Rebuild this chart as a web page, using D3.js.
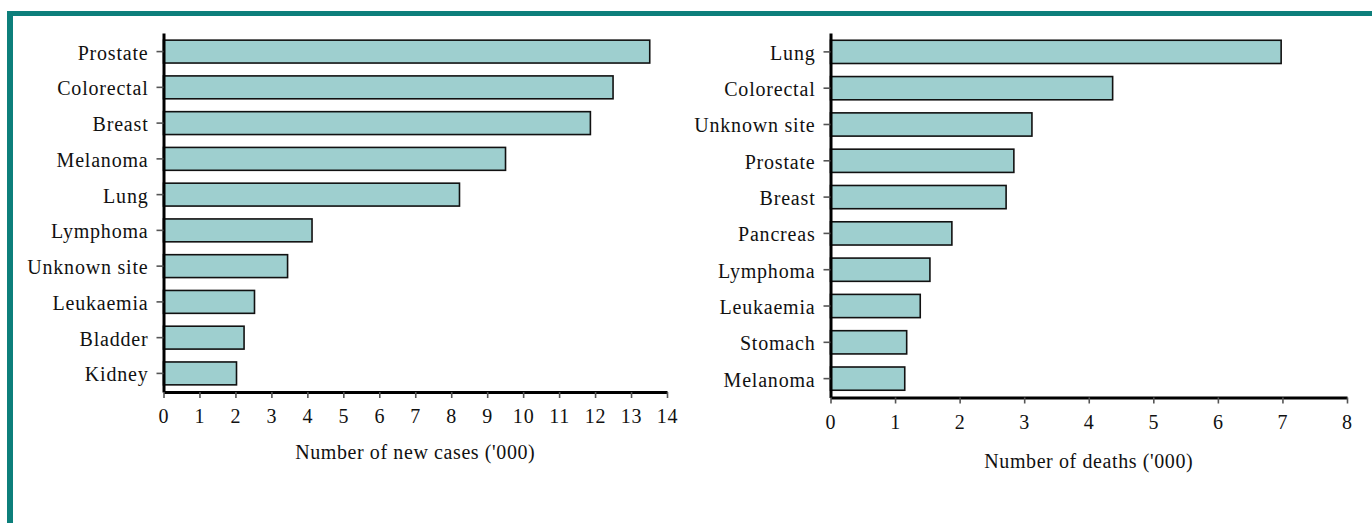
<!DOCTYPE html>
<html>
<head>
<meta charset="utf-8">
<script src="https://cdn.jsdelivr.net/npm/d3@7"></script>
<style>
  body { margin: 0; background: #fff; }
  svg text { font-family: "Liberation Serif", "Times New Roman", serif; fill: #111; }
</style>
</head>
<body>
<div id="chart"></div>
<script>
// new cases ('000)
const casesSites = ["Prostate", "Colorectal", "Breast", "Melanoma", "Lung", "Lymphoma", "Unknown site", "Leukaemia", "Bladder", "Kidney"];
const casesValues = [13.52, 12.5, 11.87, 9.51, 8.23, 4.13, 3.45, 2.53, 2.24, 2.03];
const casesTicks = d3.range(0, 15);

// deaths ('000)
const deathSites = ["Lung", "Colorectal", "Unknown site", "Prostate", "Breast", "Pancreas", "Lymphoma", "Leukaemia", "Stomach", "Melanoma"];
const deathValues = [6.98, 4.37, 3.12, 2.84, 2.72, 1.88, 1.54, 1.39, 1.18, 1.15];
const deathTicks = d3.range(0, 9);

const W = 1372, H = 523;
const teal = "#0d7f7b", barFill = "#9ecfcf";

const svg = d3.select("#chart").append("svg")
    .attr("width", W)
    .attr("height", H);

svg.append("rect").attr("width", W).attr("height", H).attr("fill", "#fff");

// frame: top and left teal rules
svg.append("rect").attr("x", 7).attr("y", 11).attr("width", W - 7).attr("height", 5).attr("fill", teal);
svg.append("rect").attr("x", 7).attr("y", 11).attr("width", 6).attr("height", H - 11).attr("fill", teal);

function panel(sites, values, ticks, xr, yr, title, titleY) {
    const x = d3.scaleLinear()
        .domain([ticks[0], ticks[ticks.length - 1]])
        .range(xr);

    const y = d3.scaleBand()
        .domain(sites)
        .range(yr)
        .paddingInner(0.36)
        .paddingOuter(0.2);

    const g = svg.append("g");

    g.selectAll("rect.bar")
        .data(values)
        .join("rect")
        .attr("class", "bar")
        .attr("x", x(0))
        .attr("y", (d, i) => y(sites[i]))
        .attr("width", d => x(d) - x(0))
        .attr("height", y.bandwidth())
        .attr("fill", barFill)
        .attr("stroke", "#111")
        .attr("stroke-width", 1.6);

    const yAxis = g.append("g")
        .attr("transform", "translate(" + xr[0] + ",0)")
        .call(d3.axisLeft(y).tickSize(7).tickSizeOuter(0).tickPadding(8));
    yAxis.selectAll(".tick text").attr("dy", "0.4em");

    const xAxis = g.append("g")
        .attr("transform", "translate(0," + yr[1] + ")")
        .call(d3.axisBottom(x).tickValues(ticks).tickFormat(d3.format("d"))
            .tickSize(6).tickSizeOuter(0).tickPadding(11));

    [yAxis, xAxis].forEach(function (a) {
        a.select(".domain").attr("stroke", "#000").attr("stroke-width", 3);
        a.selectAll(".tick line").attr("stroke", "#555").attr("stroke-width", 1.6);
        a.selectAll(".tick text")
            .style("font-size", "20px")
            .style("letter-spacing", "0.8px")
            .attr("fill", "#111");
    });

    g.append("text")
        .attr("x", (xr[0] + xr[1]) / 2)
        .attr("y", titleY)
        .attr("dy", "0.35em")
        .attr("text-anchor", "middle")
        .style("font-size", "20px")
        .style("letter-spacing", "0.6px")
        .text(title);
}

panel(casesSites, casesValues, casesTicks, [163.5, 667], [33, 392], "Number of new cases ('000)", 452);
panel(deathSites, deathValues, deathTicks, [830.5, 1347], [33, 397.5], "Number of deaths ('000)", 461);
</script>
</body>
</html>
